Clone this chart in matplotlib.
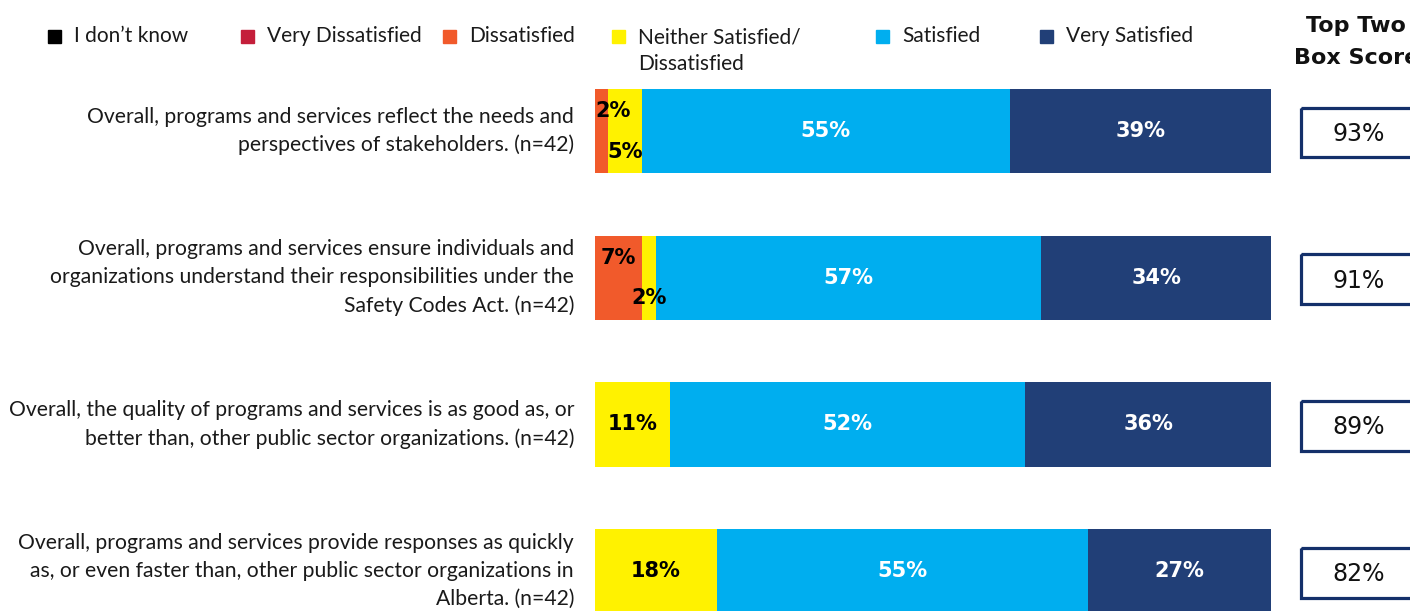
import numpy as np
import matplotlib.pyplot as plt
from matplotlib.patches import Rectangle

# ======================
# Survey data
# ======================
statements = [
    "Overall, programs and services reflect the needs and\nperspectives of stakeholders. (n=42)",
    "Overall, programs and services ensure individuals and\norganizations understand their responsibilities under the\nSafety Codes Act. (n=42)",
    "Overall, the quality of programs and services is as good as, or\nbetter than, other public sector organizations. (n=42)",
    "Overall, programs and services provide responses as quickly\nas, or even faster than, other public sector organizations in\nAlberta. (n=42)",
]
dont_know = [0, 0, 0, 0]
very_dissatisfied = [0, 0, 0, 0]
dissatisfied = [2, 7, 0, 0]
neither = [5, 2, 11, 18]
satisfied = [55, 57, 52, 55]
very_satisfied = [39, 34, 36, 27]
top_two = [93, 91, 89, 82]

legend_labels = ["I don\u2019t know", "Very Dissatisfied", "Dissatisfied",
                 "Neither Satisfied/\nDissatisfied", "Satisfied", "Very Satisfied"]
colors = ["#000000", "#C41E3A", "#F15A2B", "#FFF200", "#00AEEF", "#213F77"]
text_colors = ["white", "white", "black", "black", "white", "white"]
box_edge = "#14306A"

plt.rcParams["font.family"] = ["Lato", "DejaVu Sans"]

# ======================
# Figure / axes
# ======================
W, H = 1410, 611
fig = plt.figure(figsize=(W / 100, H / 100), dpi=100)
ax = fig.add_axes([595 / W, 0, 676 / W, 1])
ax.set_xlim(0, 100)
ax.set_ylim(3.272, -0.893)
ax.axis("off")

series = [dont_know, very_dissatisfied, dissatisfied, neither, satisfied, very_satisfied]
vals = np.array(series, dtype=float)
totals = vals.sum(axis=0)
shares = vals / totals * 100  # 100% stacked

y = np.arange(len(statements))
left = np.zeros(len(statements))
small_count = np.zeros(len(statements), dtype=int)
for i, (row, share) in enumerate(zip(vals, shares)):
    ax.barh(y, share, left=left, height=0.575, color=colors[i], edgecolor="none")
    for j in range(len(statements)):
        v = row[j]
        if v <= 0:
            continue
        cx = left[j] + share[j] / 2
        cy = y[j]
        if v < 8:
            # small slices: stagger labels above / below the middle
            if small_count[j] == 0:
                cy -= 0.135
                cx = max(cx, left[j] + 2.6)
            else:
                cy += 0.14
            small_count[j] += 1
        ax.text(cx, cy, f"{v:.0f}%", ha="center", va="center",
                color=text_colors[i], fontsize=15, fontweight="bold",
                family="DejaVu Sans")
    left += share

# statement labels on the left
for j, s in enumerate(statements):
    ax.text(-3.1, y[j], s, ha="right", va="center", fontsize=15.2,
            color="#1a1a1a", linespacing=1.5, clip_on=False)

# top two box score column
ax.text(112.6, -0.61, "Top Two\nBox Score", ha="center", va="center",
        fontsize=16, fontweight="bold", family="DejaVu Sans", color="#111111",
        linespacing=1.75, clip_on=False)
for j, t in enumerate(top_two):
    ax.add_patch(Rectangle((104.4, y[j] - 0.16), 20, 0.34, fill=False,
                           edgecolor=box_edge, linewidth=2.3, clip_on=False))
    ax.text(112.9, y[j] + 0.02, f"{t}%", ha="center", va="center", fontsize=17,
            family="DejaVu Sans", color="#111111", clip_on=False)

# legend row
leg_x = [48, 241, 443, 612, 876, 1040]
for lx, lab, c in zip(leg_x, legend_labels, colors):
    fig.patches.append(Rectangle((lx / W, 1 - 43 / H), 13 / W, 13 / H,
                                 transform=fig.transFigure, color=c))
    if "\n" in lab:
        fig.text((lx + 26) / W, 1 - 27 / H, lab, ha="left", va="top",
                 fontsize=15, color="#1a1a1a", linespacing=1.45)
    else:
        fig.text((lx + 26) / W, 1 - 36 / H, lab, ha="left", va="center",
                 fontsize=15, color="#1a1a1a")

fig.savefig("out.png", dpi=100)
